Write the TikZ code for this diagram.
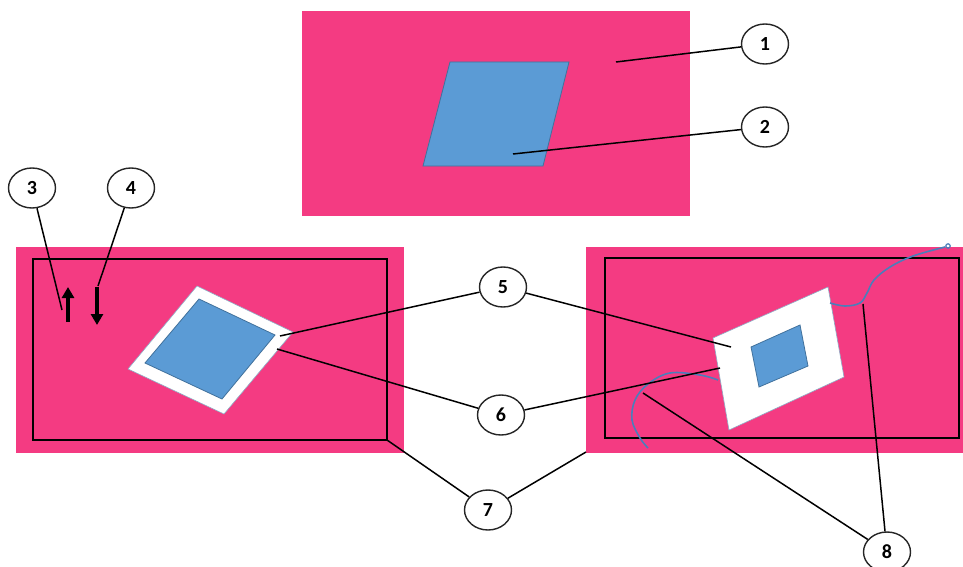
\documentclass[tikz,border=0pt]{standalone}
\usepackage{fontspec}
\setmainfont{Carlito}
\usetikzlibrary{shapes.geometric,arrows.meta}
\definecolor{pinkfill}{RGB}{244,59,130}
\definecolor{bluefill}{RGB}{91,155,213}
\definecolor{blueedge}{RGB}{65,113,156}
\definecolor{wire}{RGB}{74,126,187}
\tikzset{
  callout/.style={ellipse,draw=black!85,line width=1.4pt,fill=white,
    minimum width=47pt,minimum height=40pt,inner sep=0pt,
    font=\fontsize{20}{20}\selectfont\bfseries},
  leader/.style={draw=black,line width=1.5pt},
  panel/.style={fill=pinkfill},
  frame/.style={draw=black,line width=1.5pt},
  sample/.style={fill=bluefill,draw=blueedge,line width=0.8pt},
  mount/.style={fill=white,draw=blueedge!60,line width=0.6pt},
  wirestyle/.style={draw=wire,line width=1.6pt},
  motion/.style={draw=black,line width=3.5pt,-{Triangle[length=11pt,width=12pt]}}
}
\begin{document}
\begin{tikzpicture}[x=1pt,y=-1pt]
\useasboundingbox (0,0) rectangle (963,567);

% --- top panel: plain sample on a pink field
\fill[panel] (302,11) rectangle (690,216);
\path[sample] (450,62) -- (569,62) -- (543,166) -- (423,166) -- cycle;
\coordinate (p1) at (616,62);
\coordinate (p2) at (513,154);
\node[callout] (n1) at (765,44) {1};
\node[callout] (n2) at (765,127) {2};
\draw[leader] (p1) -- (n1);
\draw[leader] (p2) -- (n2);

% --- lower left panel: framed sample, tilted
\fill[panel] (16,247) rectangle (404,453);
\draw[frame] (33,259) rectangle (387,440);
\path[mount] (197,286) -- (293,332) -- (224,414) -- (128,369) -- cycle;
\path[sample] (199,299) -- (275,335) -- (222,399) -- (145,363) -- cycle;
\coordinate (a1) at (68,322);
\coordinate (a2) at (68,287);
\coordinate (b1) at (97,287);
\coordinate (b2) at (97,325);
\draw[motion] (a1) -- (a2);
\draw[motion] (b1) -- (b2);
\coordinate (p3) at (62,310);
\coordinate (p4) at (98,286);
\coordinate (p5l) at (280,336);
\coordinate (p6l) at (277,349);
\coordinate (p7l) at (387,440);

% --- lower right panel: sample with wires attached
\fill[panel] (586,247) rectangle (963,453);
\draw[frame] (605,258) rectangle (959,438);
\path[mount] (713,338) -- (828,287) -- (844,377) -- (729,430) -- cycle;
\path[sample] (751,347) -- (800,325) -- (808,366) -- (759,387) -- cycle;
\draw[wirestyle] plot[smooth,tension=0.6] coordinates
  {(830,303) (845,306) (860,303) (867,293) (874,280) (890,267) (913,256) (945,247)};
\draw[wire,line width=1.2pt] (948,246) circle (2.2pt);
\draw[wirestyle] plot[smooth,tension=0.6] coordinates
  {(718,380) (700,375) (670,373) (648,384) (635,400) (632,420) (640,438) (648,448)};
\coordinate (p5r) at (731,347);
\coordinate (p6r) at (720,368);
\coordinate (p7r) at (586,452);
\coordinate (p8l) at (643,393);
\coordinate (p8r) at (863,304);

% --- callouts
\node[callout] (n3) at (32,188) {3};
\node[callout] (n4) at (131,188) {4};
\node[callout] (n5) at (503,287) {5};
\node[callout] (n6) at (501,415) {6};
\node[callout] (n7) at (488,510) {7};
\node[callout] (n8) at (887,552) {8};

\draw[leader] (n3) -- (p3);
\draw[leader] (n4) -- (p4);
\draw[leader] (p5l) -- (n5);
\draw[leader] (n5) -- (p5r);
\draw[leader] (p6l) -- (n6);
\draw[leader] (n6) -- (p6r);
\draw[leader] (p7l) -- (n7);
\draw[leader] (p7r) -- (n7);
\draw[leader] (p8l) -- (n8);
\draw[leader] (p8r) -- (n8);
\end{tikzpicture}
\end{document}
